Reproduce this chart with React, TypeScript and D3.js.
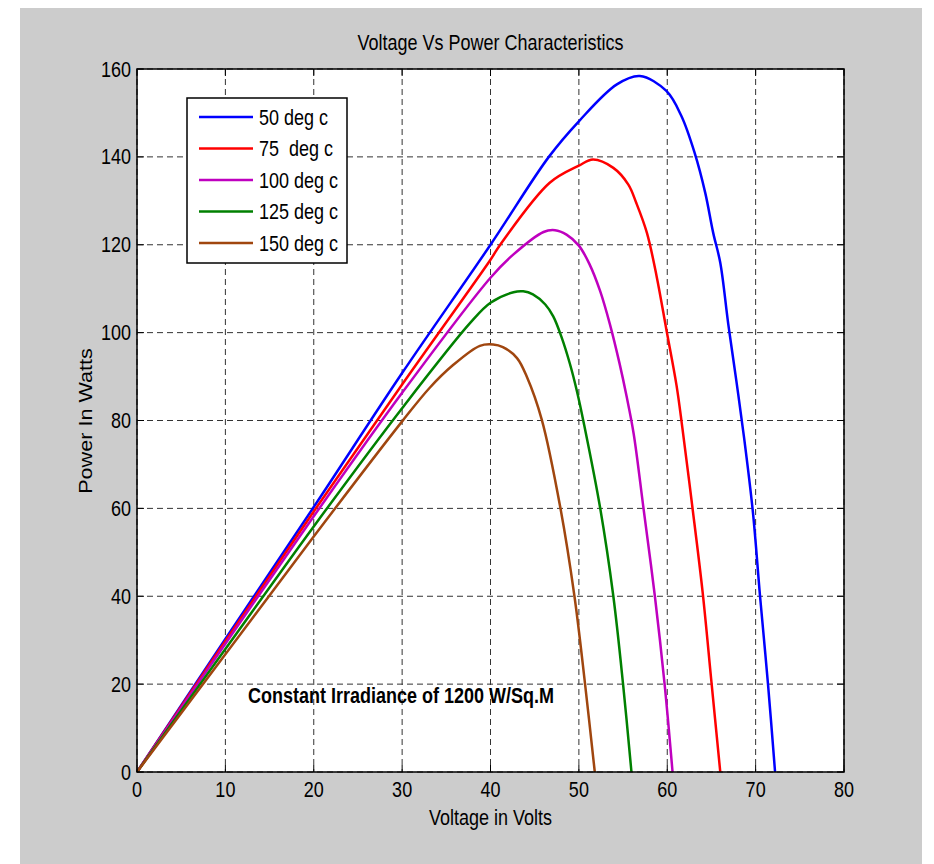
import * as d3 from 'd3';

// P-V curves, [volts, watts]
const series50: [number, number][] = [
  [0, 0], [10, 30.3], [20, 60.3], [30, 90.8], [40, 120], [46.6, 140], [50, 148.1],
  [54.3, 156.5], [56.9, 158.4], [59.9, 155], [61.6, 149.3], [63.1, 140.9], [64.3, 131.8],
  [65.2, 122.7], [66, 115.9], [66.9, 102], [67.8, 89.3], [68.7, 76], [69.7, 59],
  [70.5, 40], [71.4, 20], [72.2, 0],
];
const series75: [number, number][] = [
  [0, 0], [10, 29.8], [20, 59.3], [30, 88.2], [40, 116.6], [41.1, 120], [46.7, 134.1],
  [50, 138], [51.6, 139.4], [53.9, 137.5], [55.6, 133.7], [56.5, 129.5], [57.7, 122.7],
  [58.8, 112.8], [59.9, 100.7], [61.05, 88], [61.7, 78.5], [62.8, 61], [64.0, 41],
  [65, 20.5], [66, 0],
];
const series100: [number, number][] = [
  [0, 0], [10, 29.2], [20, 58.2], [30, 86.3], [40, 112.5], [42.6, 117.8], [46, 122.9],
  [47.3, 123.3], [48.6, 122.3], [50, 119.8], [51.2, 115.6], [52.4, 109.5], [53.5, 102],
  [54.6, 93], [55.4, 85.5], [56.2, 77], [57.3, 60.2], [58.6, 40], [59.7, 20], [60.6, 0],
];
const series125: [number, number][] = [
  [0, 0], [10, 28], [20, 55.9], [30, 82.8], [37.7, 102.2], [40, 106.8], [42.6, 109.2],
  [43.7, 109.4], [44.8, 108.7], [46.2, 106.4], [47.1, 103.7], [48, 99.2], [49, 92.8],
  [49.8, 86.5], [50.6, 79], [52.4, 60.2], [53.9, 40], [55, 20], [55.95, 0],
];
const series150: [number, number][] = [
  [0, 0], [10, 26.8], [20, 53.6], [30, 79.8], [33.1, 87.4], [35.7, 92.5], [38.8, 97],
  [40.3, 97.3], [41.4, 96.7], [43, 94.2], [44.1, 90], [45.8, 80.2], [47.9, 60.2],
  [49.5, 40], [50.7, 20], [51.8, 0],
];

const legendLabels = ['50 deg c', '75  deg c', '100 deg c', '125 deg c', '150 deg c'];
const colors = ['#0000ff', '#ff0000', '#bf00bf', '#008000', '#a0460f'];
const allSeries = [series50, series75, series100, series125, series150];

const xTicks = [0, 10, 20, 30, 40, 50, 60, 70, 80];
const yTicks = [0, 20, 40, 60, 80, 100, 120, 140, 160];

const W = 934, H = 864;
const left = 137, right = 844, top = 69, bottom = 772;
const font = 'Arial, "Liberation Sans", Helvetica, sans-serif';
const sy = 1.2; // reference text looks stretched vertically

export default function App() {
  const x = d3.scaleLinear().domain([0, 80]).range([left, right]);
  const y = d3.scaleLinear().domain([0, 160]).range([bottom, top]);
  const line = d3.line<[number, number]>()
    .x(d => x(d[0]))
    .y(d => y(d[1]))
    .curve(d3.curveCatmullRom.alpha(0.5));

  const txt = (tx: number, ty: number, s: string, anchor: string, extra: any = {}) => (
    <text transform={`translate(${tx},${ty}) scale(1,${sy})`} textAnchor={anchor}
      fontFamily={font} fontSize={18} fill="#000" style={{ whiteSpace: 'pre' }} {...extra}>{s}</text>
  );

  const lgX = 187, lgY = 98, lgW = 160, lgH = 165, lgStep = 31.5;

  return (
    <svg width={W} height={H} style={{ position: 'absolute', left: 0, top: 0 }}>
      <rect x={0} y={0} width={W} height={H} fill="#fff" />
      <rect x={20} y={8} width={902} height={H - 8} fill="#cccccc" />
      <rect x={left} y={top} width={right - left} height={bottom - top} fill="#fff" />

      {/* grid */}
      {xTicks.map(t => (
        <line key={'gx' + t} x1={x(t)} x2={x(t)} y1={top} y2={bottom}
          stroke="#333" strokeWidth={1} strokeDasharray="6,4" />
      ))}
      {yTicks.map(t => (
        <line key={'gy' + t} x1={left} x2={right} y1={y(t)} y2={y(t)}
          stroke="#333" strokeWidth={1} strokeDasharray="6,4" />
      ))}

      {/* curves */}
      {allSeries.map((s, i) => (
        <path key={'s' + i} d={line(s) || ''} fill="none" stroke={colors[i]}
          strokeWidth={2.5} strokeLinejoin="round" />
      ))}

      {/* box + ticks */}
      <rect x={left} y={top} width={right - left} height={bottom - top} fill="none" stroke="#000" strokeWidth={1.5} />
      {xTicks.map(t => (
        <g key={'tx' + t}>
          <line x1={x(t)} x2={x(t)} y1={bottom} y2={bottom - 7} stroke="#000" />
          <line x1={x(t)} x2={x(t)} y1={top} y2={top + 7} stroke="#000" />
          {txt(x(t), 797, String(t), 'middle')}
        </g>
      ))}
      {yTicks.map(t => (
        <g key={'ty' + t}>
          <line x1={left} x2={left + 7} y1={y(t)} y2={y(t)} stroke="#000" />
          <line x1={right} x2={right - 7} y1={y(t)} y2={y(t)} stroke="#000" />
          {txt(131, y(t) + 7.5, String(t), 'end')}
        </g>
      ))}

      {/* legend */}
      <rect x={lgX} y={lgY} width={lgW} height={lgH} fill="#fff" stroke="#000" strokeWidth={1.5} />
      {legendLabels.map((l, i) => (
        <g key={'lg' + i}>
          <line x1={199} x2={253} y1={lgY + 19 + i * lgStep} y2={lgY + 19 + i * lgStep}
            stroke={colors[i]} strokeWidth={2.5} />
          {txt(259, lgY + 19 + i * lgStep + 7.5, l, 'start')}
        </g>
      ))}

      {/* texts */}
      {txt((left + right) / 2, 50, 'Voltage Vs Power Characteristics', 'middle')}
      {txt((left + right) / 2, 825, 'Voltage in Volts', 'middle')}
      <text transform={`translate(92,421) scale(1,${sy}) rotate(-90)`} textAnchor="middle"
        fontFamily={font} fontSize={18}>Power In Watts</text>
      {txt(248, 703, 'Constant Irradiance of 1200 W/Sq.M', 'start', { fontWeight: 'bold' })}
    </svg>
  );
}
